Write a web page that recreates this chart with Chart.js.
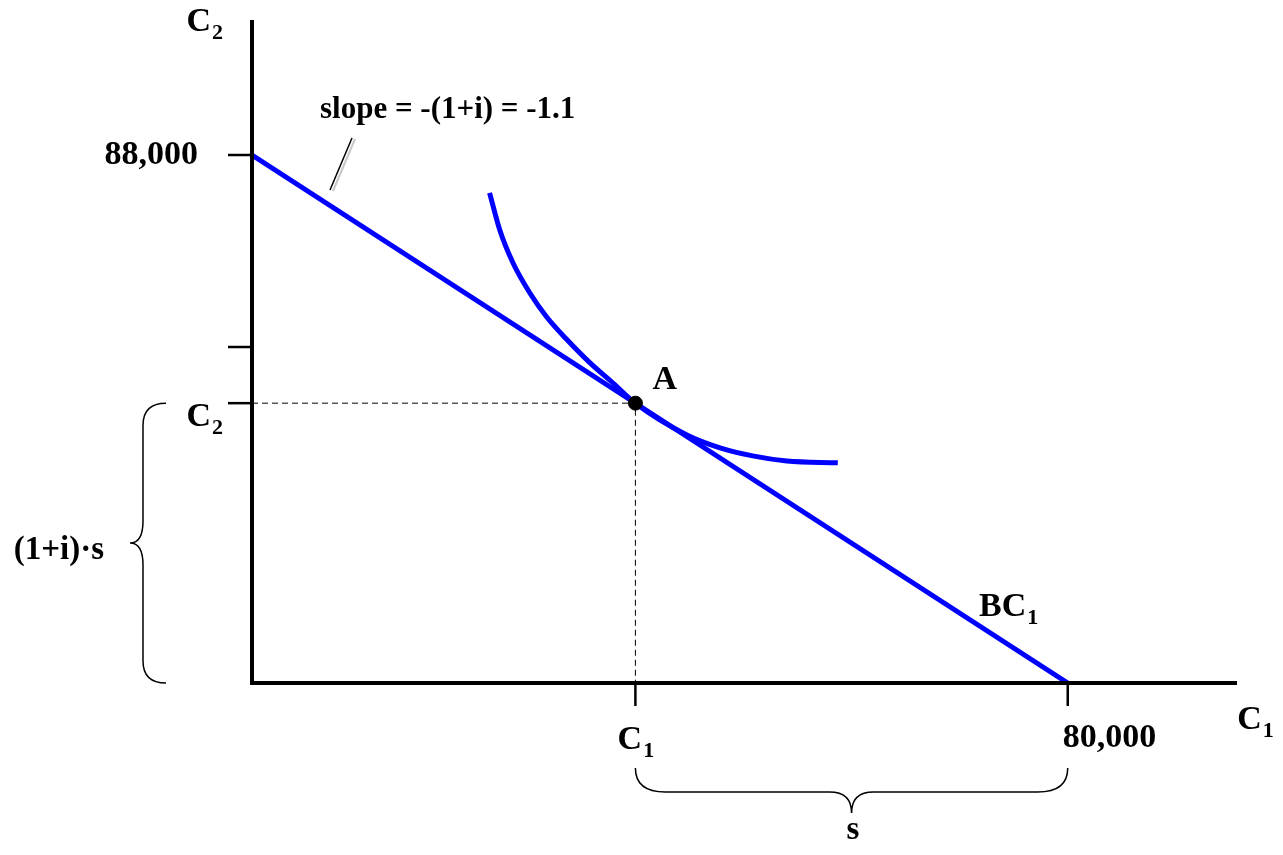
<!DOCTYPE html>
<html>
<head>
<meta charset="utf-8">
<script src="https://cdn.jsdelivr.net/npm/chart.js@4"></script>
<style>
  html, body { margin: 0; padding: 0; background: #fff; }
  #wrap { width: 1283px; height: 855px; }
</style>
</head>
<body>
<div id="wrap"><canvas id="chart" width="1283" height="855"></canvas></div>
<script>
// axis ranges
const xMax = 96600;
const yMax = 110500;

// budget constraint BC1
const budgetC1 = [0, 80000];
const budgetC2 = [88000, 0];

// optimum A
const pointA = [37600, 46640];

// indifference curve
const curveC1 = [23300, 24300, 25600, 27250, 28900, 30900, 33150, 35400, 37600, 42650, 45900, 49100, 52450, 57450];
const curveC2 = [81700, 75500, 70000, 65000, 61000, 57200, 53350, 50000, 46640, 41350, 39200, 37850, 37000, 36700];

// tick marks
const xTicks = [37600, 80000];
const yTicks = [46640, 56000, 88000];

const FONT = '"Liberation Serif", "DejaVu Serif", serif';

function toPoints(xs, ys) {
    return xs.map((x, i) => ({ x: x, y: ys[i] }));
}

function drawSub(ctx, main, sub, x, y, align, size) {
    const subSize = Math.round(size * 0.66);
    ctx.font = 'bold ' + size + 'px ' + FONT;
    const w1 = ctx.measureText(main).width;
    ctx.font = 'bold ' + subSize + 'px ' + FONT;
    const w2 = ctx.measureText(sub).width;
    let left = x;
    if (align === 'center') left = x - (w1 + w2) / 2;
    if (align === 'right') left = x - (w1 + w2);
    ctx.textAlign = 'left';
    ctx.textBaseline = 'middle';
    ctx.font = 'bold ' + size + 'px ' + FONT;
    ctx.fillText(main, left, y);
    ctx.font = 'bold ' + subSize + 'px ' + FONT;
    ctx.fillText(sub, left + w1 + 1, y + size * 0.32);
}

const axesPlugin = {
    id: 'axesPlugin',
    afterDatasetsDraw(chart) {
        const ctx = chart.ctx;
        const a = chart.chartArea;
        const xs = chart.scales.x, ys = chart.scales.y;
        const x0 = xs.getPixelForValue(0), y0 = ys.getPixelForValue(0);
        ctx.save();
        ctx.strokeStyle = '#000';
        ctx.fillStyle = '#000';

        // axes
        ctx.lineWidth = 4;
        ctx.beginPath();
        ctx.moveTo(x0, a.top);
        ctx.lineTo(x0, y0);
        ctx.lineTo(a.right, y0);
        ctx.stroke();

        // tick marks
        ctx.lineWidth = 2.5;
        xTicks.forEach(v => {
            const px = xs.getPixelForValue(v);
            ctx.beginPath();
            ctx.moveTo(px, y0);
            ctx.lineTo(px, y0 + 23);
            ctx.stroke();
        });
        yTicks.forEach(v => {
            const py = ys.getPixelForValue(v);
            ctx.beginPath();
            ctx.moveTo(x0, py);
            ctx.lineTo(x0 - 24, py);
            ctx.stroke();
        });

        // tick / axis labels
        const yA = ys.getPixelForValue(pointA[1]);
        const xA = xs.getPixelForValue(pointA[0]);
        ctx.font = 'bold 34px ' + FONT;
        ctx.textBaseline = 'middle';
        ctx.textAlign = 'right';
        ctx.fillText('88,000', x0 - 54, ys.getPixelForValue(88000));
        ctx.textAlign = 'left';
        ctx.fillText('80,000', xs.getPixelForValue(80000) - 5, y0 + 55);

        drawSub(ctx, 'C', '2', x0 - 30, 22, 'right', 34);
        drawSub(ctx, 'C', '2', x0 - 30, yA + 14, 'right', 34);
        drawSub(ctx, 'C', '1', xA, y0 + 57, 'center', 34);
        drawSub(ctx, 'C', '1', a.right + 18, y0 + 37, 'center', 34);
        drawSub(ctx, 'BC', '1', 979, 607, 'left', 34);

        ctx.font = 'bold 34px ' + FONT;
        ctx.textAlign = 'left';
        ctx.fillText('A', xA + 17, yA - 23);

        ctx.font = 'bold 31px ' + FONT;
        ctx.fillText('slope = -(1+i) = -1.1', 320, 110);
        ctx.font = 'bold 33px ' + FONT;
        ctx.textAlign = 'right';
        ctx.fillText('(1+i)\u00b7s', 104, 550);
        ctx.textAlign = 'center';
        ctx.fillText('s', 853, 830);

        // leader line to slope label
        ctx.lineWidth = 2;
        ctx.strokeStyle = '#c8c8c8';
        ctx.beginPath();
        ctx.moveTo(355, 139);
        ctx.lineTo(333, 191);
        ctx.stroke();
        ctx.strokeStyle = '#000';
        ctx.lineWidth = 1.5;
        ctx.beginPath();
        ctx.moveTo(352, 138);
        ctx.lineTo(330, 190);
        ctx.stroke();

        // left brace: from C2 down to origin
        ctx.lineWidth = 1.5;
        const bx = 143, tip = 130, mid = (yA + y0) / 2;
        ctx.beginPath();
        ctx.moveTo(166, yA);
        ctx.quadraticCurveTo(bx, yA, bx, yA + 22);
        ctx.lineTo(bx, mid - 22);
        ctx.quadraticCurveTo(bx, mid, tip, mid);
        ctx.quadraticCurveTo(bx, mid, bx, mid + 22);
        ctx.lineTo(bx, y0 - 22);
        ctx.quadraticCurveTo(bx, y0, 166, y0);
        ctx.stroke();

        // bottom brace: from C1 to 80,000
        const x80 = xs.getPixelForValue(80000);
        const by = 792, btop = 768, btip = 813, bmid = (xA + x80) / 2;
        ctx.beginPath();
        ctx.moveTo(xA, btop);
        ctx.quadraticCurveTo(xA, by, xA + 30, by);
        ctx.lineTo(bmid - 22, by);
        ctx.quadraticCurveTo(bmid, by, bmid, btip);
        ctx.quadraticCurveTo(bmid, by, bmid + 22, by);
        ctx.lineTo(x80 - 30, by);
        ctx.quadraticCurveTo(x80, by, x80, btop);
        ctx.stroke();

        ctx.restore();
    }
};

new Chart(document.getElementById('chart'), {
    type: 'scatter',
    data: {
        datasets: [
            {
                label: 'A',
                data: [{ x: pointA[0], y: pointA[1] }],
                pointRadius: 7,
                pointBackgroundColor: '#000',
                pointBorderColor: '#000',
                showLine: false,
                order: 0
            },
            {
                label: 'BC1',
                data: toPoints(budgetC1, budgetC2),
                showLine: true,
                borderColor: '#0000ff',
                borderWidth: 5,
                pointRadius: 0,
                order: 1
            },
            {
                label: 'IC',
                data: toPoints(curveC1, curveC2),
                showLine: true,
                borderColor: '#0000ff',
                borderWidth: 5,
                pointRadius: 0,
                cubicInterpolationMode: 'monotone',
                order: 1
            },
            {
                label: 'guides',
                data: [{ x: 0, y: pointA[1] }, { x: pointA[0], y: pointA[1] }, { x: pointA[0], y: 0 }],
                showLine: true,
                borderColor: '#000',
                borderWidth: 1,
                borderDash: [6, 4],
                pointRadius: 0,
                order: 2
            }
        ]
    },
    options: {
        responsive: false,
        animation: false,
        layout: { padding: { left: 252, right: 46, top: 20, bottom: 172 } },
        plugins: { legend: { display: false }, tooltip: { enabled: false } },
        scales: {
            x: { type: 'linear', display: false, min: 0, max: xMax },
            y: { type: 'linear', display: false, min: 0, max: yMax }
        }
    },
    plugins: [axesPlugin]
});
</script>
</body>
</html>
